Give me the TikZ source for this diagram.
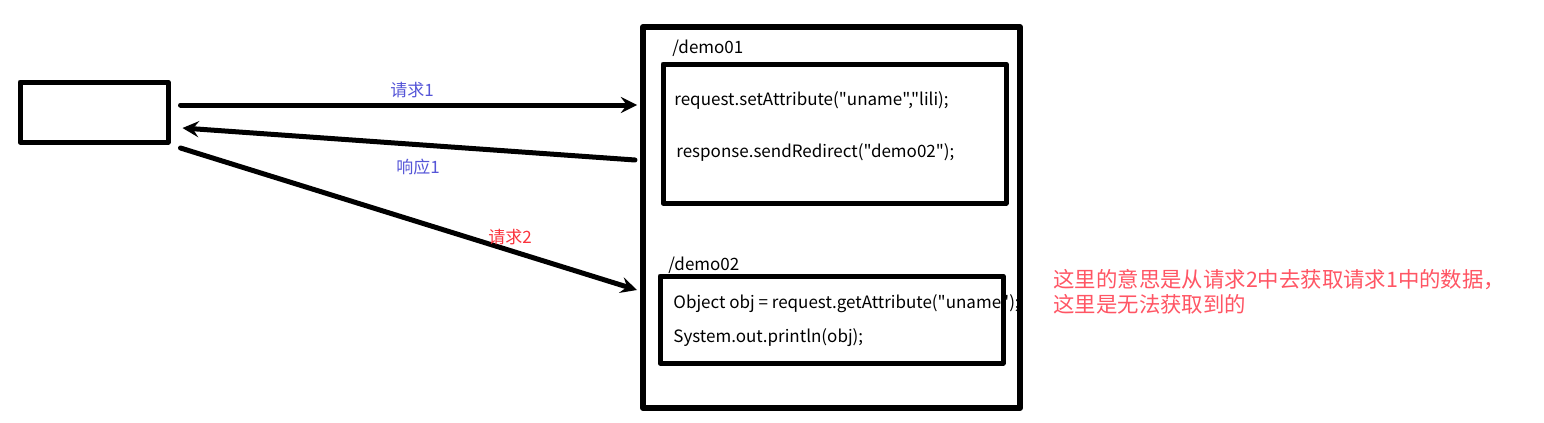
\documentclass[tikz,border=0pt]{standalone}
\usepackage{fontspec}
\setmainfont{Noto Sans CJK SC}
\newfontfamily\codefont{Noto Sans CJK SC}[Ligatures=TeXOff]
\usetikzlibrary{positioning}
\definecolor{reqblue}{RGB}{85,85,215}
\definecolor{reqred}{RGB}{250,50,60}
\definecolor{notered}{RGB}{255,85,100}
\begin{document}
\begin{tikzpicture}[x=0.5pt,y=-0.5pt,>=stealth,line join=round,line cap=round,
	box/.style={draw,line width=2.5pt,inner sep=0pt},
	flow/.style={->,line width=2.5pt},
	code/.style={anchor=west,inner sep=0pt,font=\codefont\fontsize{8.5}{10}\selectfont},
	tag/.style={inner sep=0pt,font=\fontsize{8.5}{10}\selectfont}]
	\useasboundingbox (0,0) rectangle (1544,423);
	% browser and server
	\node[box,minimum width=74pt,minimum height=30pt] (client) at (94,112) {};
	\node[box,line width=3pt,minimum width=188.5pt,minimum height=190.5pt] (server) at (831.5,217.5) {};
	\node[box,minimum width=171.5pt,minimum height=69.5pt] (demoA) at (834.5,133.5) {};
	\node[box,minimum width=171.5pt,minimum height=43.5pt] (demoB) at (831.5,319.5) {};
	% texts in the server
	\node[code] (nameA) at (672,48) {/demo01};
	\node[code] (setA) at (674,100) {request.setAttribute("uname","lili);};
	\node[code] (sendA) at (676,152) {response.sendRedirect("demo02");};
	\node[code] (nameB) at (668,265) {/demo02};
	\node[code] (getB) at (673,304) {Object obj = request.getAttribute("uname");};
	\node[code] (printB) at (673,338) {System.out.println(obj);};
	% requests
	\draw[flow] ([shift={(10,-7)}]client.east) -- ([shift={(-3,-112.5)}]server.west);
	\draw[flow] ([shift={(-5,-57.5)}]server.west) -- ([shift={(12,16)}]client.east);
	\draw[flow] ([shift={(10,36)}]client.east) -- ([shift={(-3,72.5)}]server.west);
	\node[tag,text=reqblue] (reqA) at (412,90) {请求1};
	\node[tag,text=reqblue] (respA) at (418,167) {响应1};
	\node[tag,text=reqred] (reqB) at (510,237) {请求2};
	\node[anchor=west,inner sep=0pt,align=left,text=notered,font=\fontsize{10.7}{12.5}\selectfont] (note) at (1053,291.5) {这里的意思是从请求2中去获取请求1中的数据，\\这里是无法获取到的};
\end{tikzpicture}
\end{document}
